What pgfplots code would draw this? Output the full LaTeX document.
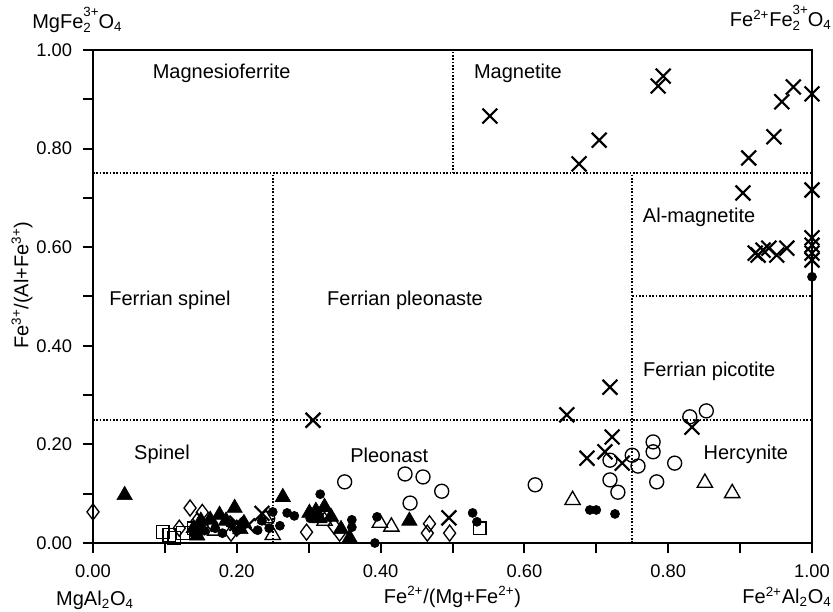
\documentclass[border=0pt]{standalone}
\usepackage{pgfplots}
\pgfplotsset{compat=1.18}
\usepackage{fontspec}
\setmainfont{Liberation Sans}
\newcommand{\subsup}[2]{\rlap{\raisebox{-0.4ex}{\fontsize{8}{8}\selectfont #1}}\raisebox{1.15ex}{\fontsize{8}{8}\selectfont #2}}
\begin{document}
\begin{tikzpicture}
\useasboundingbox (-55.8pt,-40.8pt) rectangle (444pt,325.8pt);
\begin{axis}[
  scale only axis, width=431.4pt, height=295.8pt,
  xmin=0, xmax=1, ymin=0, ymax=1,
  clip=false,
  axis line style={line width=1.2pt},
  xtick={0,0.2,...,1.01}, ytick={0,0.2,...,1.01},
  minor xtick={0.1,0.3,0.5,0.7,0.9}, minor ytick={0.1,0.3,0.5,0.7,0.9},
  xtick pos=bottom, ytick pos=left,
  tick align=outside,
  major tick length=6pt, minor tick length=6pt,
  every tick/.style={black, line width=1.2pt},
  minor tick style={black, line width=1.2pt},
  tick label style={font=\fontsize{11}{12}\selectfont},
  /pgf/number format/assume math mode=true,
  /pgf/number format/.cd, fixed, fixed zerofill, precision=2, /pgfplots/.cd,
  yticklabel style={xshift=-3pt},
  xticklabel style={yshift=-3.5pt},
  xlabel={Fe\textsuperscript{2+}/(Mg+Fe\textsuperscript{2+})},
  ylabel={Fe\textsuperscript{3+}/(Al+Fe\textsuperscript{3+})},
  label style={font=\fontsize{12}{14}\selectfont},
  xlabel style={at={(axis description cs:0.5,-0.1095)}, anchor=center},
  ylabel style={at={(axis description cs:-0.0987,0.523)}, anchor=center},
]
\pgfplotsset{dotline/.style={black, line width=1.2pt, dash pattern=on 1pt off 1pt}}
\addplot[dotline] coordinates {(0,0.75) (1,0.75)};
\addplot[dotline] coordinates {(0.5,0.75) (0.5,1)};
\addplot[dotline] coordinates {(0,0.25) (1,0.25)};
\addplot[dotline] coordinates {(0.25,0) (0.25,0.75)};
\addplot[dotline] coordinates {(0.75,0) (0.75,0.75)};
\addplot[dotline] coordinates {(0.75,0.5) (1,0.5)};

% open squares
\addplot[only marks, mark=square, mark size=3.8pt, mark options={black, line width=0.8pt, fill=white}] coordinates {
(0.097,0.022) (0.106,0.016) (0.113,0.010) (0.125,0.020) (0.140,0.030) (0.538,0.030)};
% open diamonds
\addplot[only marks, mark=diamond, mark size=4.8pt, mark options={black, line width=0.8pt, fill=white}] coordinates {
(0.0,0.063) (0.135,0.071) (0.152,0.062) (0.145,0.045) (0.165,0.040) (0.192,0.020) (0.200,0.030)
(0.297,0.022) (0.343,0.020) (0.335,0.035) (0.468,0.039) (0.465,0.020) (0.496,0.020) (0.120,0.030)};
% open triangles
\addplot[only marks, mark=triangle, mark size=5.3pt, mark options={black, line width=0.8pt}] coordinates {
(0.667,0.087) (0.851,0.122) (0.889,0.101) (0.399,0.041) (0.415,0.033) (0.250,0.016) (0.240,0.050)
(0.322,0.045) (0.170,0.025)};
% filled triangles
\addplot[only marks, mark=triangle*, mark size=5.3pt, mark options={black, fill=black}] coordinates {
(0.044,0.097) (0.264,0.093) (0.197,0.071) (0.176,0.057) (0.163,0.047)
(0.301,0.061) (0.310,0.065) (0.322,0.073) (0.331,0.053) (0.315,0.050) (0.345,0.028) (0.357,0.010)
(0.440,0.045) (0.140,0.030) (0.150,0.045) (0.185,0.045) (0.210,0.040) (0.145,0.015) (0.205,0.028)};
% open circles
\addplot[only marks, mark=o, mark size=4.2pt, mark options={black, line width=0.8pt}] coordinates {
(0.615,0.118) (0.719,0.168) (0.719,0.128) (0.730,0.103) (0.750,0.178) (0.758,0.156) (0.779,0.205)
(0.779,0.185) (0.809,0.162) (0.784,0.124) (0.830,0.256) (0.853,0.268) (0.350,0.124) (0.434,0.140)
(0.459,0.134) (0.485,0.105) (0.441,0.081) (0.243,0.050)};
% filled circles
\addplot[only marks, mark=*, mark size=2.7pt, mark options={black, fill=black}] coordinates {
(0.316,0.099) (0.392,0.000) (0.395,0.053) (0.360,0.047) (0.360,0.032) (0.528,0.061) (0.534,0.043)
(0.250,0.063) (0.270,0.061) (0.229,0.026) (0.691,0.067) (0.700,0.067) (0.726,0.059) (1.000,0.540)
(0.140,0.020) (0.155,0.025) (0.170,0.030) (0.180,0.020) (0.200,0.025) (0.190,0.040) (0.150,0.035)
(0.235,0.045) (0.260,0.035) (0.245,0.030) (0.280,0.055) (0.302,0.050)};
% crosses
\addplot[only marks, mark=x, mark size=6.3pt, mark options={black, line width=1.3pt}] coordinates {
(0.552,0.866) (0.676,0.769) (0.704,0.817) (0.786,0.927) (0.793,0.947) (0.912,0.781) (0.947,0.824)
(0.958,0.895) (0.974,0.925) (1.000,0.911) (0.904,0.710) (1.000,0.716)
(0.921,0.588) (0.925,0.584) (0.932,0.594) (0.940,0.598) (0.951,0.584) (0.965,0.598)
(1.000,0.619) (1.000,0.604) (1.000,0.588) (1.000,0.574)
(0.306,0.249) (0.719,0.316) (0.659,0.260) (0.833,0.235) (0.722,0.215) (0.687,0.172) (0.712,0.185)
(0.736,0.162) (0.495,0.051) (0.200,0.040) (0.215,0.035) (0.235,0.060)};

% region labels
\begin{scope}[every node/.style={font=\fontsize{12}{14}\selectfont}]
\node at (axis cs:0.179,0.953) {Magnesioferrite};
\node at (axis cs:0.591,0.953) {Magnetite};
\node at (axis cs:0.843,0.661) {Al-magnetite};
\node at (axis cs:0.107,0.493) {Ferrian spinel};
\node at (axis cs:0.434,0.493) {Ferrian pleonaste};
\node at (axis cs:0.857,0.349) {Ferrian picotite};
\node at (axis cs:0.096,0.179) {Spinel};
\node at (axis cs:0.412,0.178) {Pleonast};
\node at (axis cs:0.908,0.179) {Hercynite};
\end{scope}
\end{axis}
\begin{scope}[every node/.style={font=\fontsize{12}{14}\selectfont, inner sep=0pt}]
\node[anchor=west] at (-36.6pt,313.8pt) {MgFe\subsup{2}{3+}O\textsubscript{4}};
\node[anchor=east] at (443.4pt,315pt) {Fe\textsuperscript{2+}Fe\subsup{2}{3+}O\textsubscript{4}};
\node at (1.2pt,-34.2pt) {MgAl\textsubscript{2}O\textsubscript{4}};
\node[anchor=east] at (443.4pt,-32.4pt) {Fe\textsuperscript{2+}Al\textsubscript{2}O\textsubscript{4}};
\end{scope}
\end{tikzpicture}
\end{document}
